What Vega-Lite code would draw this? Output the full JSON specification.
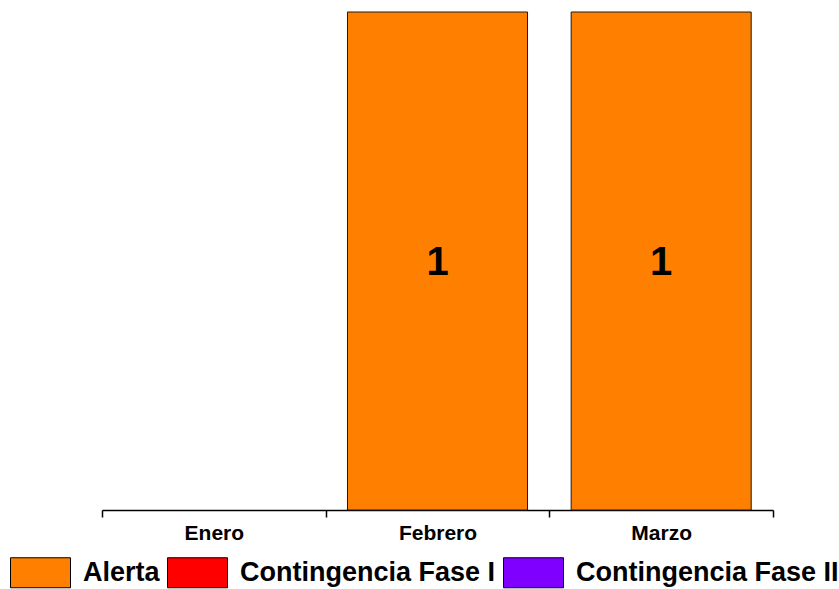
{
  "$schema": "https://vega.github.io/schema/vega-lite/v6.json",
  "autosize": {"type": "none"},
  "padding": {"left": 102, "top": 12, "right": 66, "bottom": 79},
  "width": 671,
  "height": 498,
  "background": "white",
  "config": {
    "view": {"stroke": null},
    "font": "Liberation Sans"
  },
  "data": {
    "values": [
      {"mes": "Febrero", "nivel": "Alerta", "valor": 1},
      {"mes": "Marzo", "nivel": "Alerta", "valor": 1}
    ]
  },
  "transform": [
    {"calculate": "datum.valor / 2", "as": "medio"}
  ],
  "layer": [
    {
      "mark": {"type": "bar", "width": {"band": 0.805}, "stroke": "#1a1a1a", "strokeWidth": 1},
      "encoding": {
        "x": {
          "field": "mes", "type": "nominal",
          "scale": {"domain": ["Enero", "Febrero", "Marzo"], "paddingInner": 0, "paddingOuter": 0},
          "axis": {
            "title": null, "labelAngle": 0, "labelFont": "Liberation Sans", "labelFontSize": 21,
            "labelFontWeight": "bold", "labelColor": "black", "labelPadding": 5,
            "domainColor": "black", "domainWidth": 1.5, "tickColor": "black", "tickWidth": 1.5,
            "tickSize": 7, "tickBand": "extent", "grid": false
          }
        },
        "y": {
          "field": "valor", "type": "quantitative", "stack": "zero",
          "scale": {"domain": [0, 1], "nice": false},
          "axis": null
        },
        "color": {
          "field": "nivel", "type": "nominal",
          "scale": {"domain": ["Alerta", "Contingencia Fase I", "Contingencia Fase II"], "range": ["#FF8000", "#FF0000", "#8000FF"]},
          "legend": {
            "title": null, "orient": "none", "direction": "horizontal",
            "legendX": -92, "legendY": 530,
            "symbolType": "M-1,-0.5H1V0.5H-1Z", "symbolSize": 3600,
            "symbolStrokeColor": "black", "symbolStrokeWidth": 1, "symbolOpacity": 1,
            "labelFont": "Liberation Sans", "labelFontSize": 27, "labelFontWeight": "bold",
            "labelColor": "black", "labelOffset": 12, "columnPadding": 5, "labelLimit": 400
          }
        }
      }
    },
    {
      "mark": {"type": "text", "font": "Liberation Sans", "fontSize": 40, "fontWeight": "bold", "color": "black", "baseline": "middle", "dy": 2},
      "encoding": {
        "x": {"field": "mes", "type": "nominal"},
        "y": {"field": "medio", "type": "quantitative"},
        "text": {"field": "valor", "type": "quantitative"}
      }
    }
  ]
}
